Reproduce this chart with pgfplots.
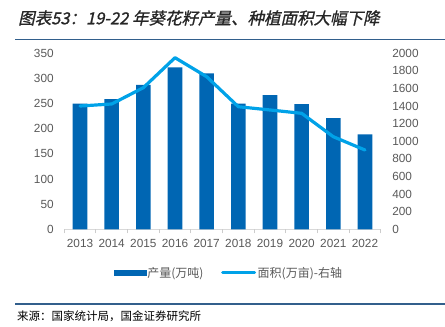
\documentclass[border=0pt]{standalone}
\usepackage{pgfplots}
\pgfplotsset{compat=1.18}
\usepackage{fontspec}
\setmainfont{Liberation Sans}
\newfontfamily\cjk{Noto Sans CJK SC}
\newfontfamily\cjktitle{Noto Sans CJK SC}[FakeSlant=0.22,FakeBold=1]
\definecolor{barblue}{RGB}{0,102,179}
\definecolor{lineblue}{RGB}{0,162,232}
\definecolor{tickgray}{RGB}{89,89,89}
\definecolor{rulecol}{RGB}{50,95,140}
\begin{document}
\begin{tikzpicture}
\path[use as bounding box] (0pt,0pt) rectangle (445pt,327pt);
\node[anchor=west, inner sep=0pt, font=\cjktitle\fontsize{16.5}{18}\selectfont, text=black!85] at (18pt,309pt) {图表53：19-22 年葵花籽产量、种植面积大幅下降};
\draw[rulecol, line width=1.5pt] (15pt,287.5pt) -- (445pt,287.5pt);
\draw[rulecol, line width=1.2pt] (15pt,23pt) -- (445pt,23pt);
\node[anchor=west, inner sep=0pt, font=\cjk\fontsize{11.5}{12}\selectfont] at (17pt,11pt) {来源：国家统计局，国金证券研究所};

\pgfplotsset{common/.style={at={(64.2pt,97.7pt)}, anchor=south west, scale only axis,
  width=316.6pt, height=176pt, xmin=-0.5, xmax=9.5, ymin=0,
  tick label style={font=\fontsize{11.8}{12}\selectfont, text=tickgray},
  /pgf/number format/assume math mode=true, /pgf/number format/1000 sep={}}}

\begin{axis}[common, ymax=350, ytick={0,50,...,350},
  axis x line*=bottom, axis y line*=left,
  y axis line style={draw=none}, x axis line style={draw=black!15, line width=0.8pt},
  xtick={0,...,9}, xticklabels={2013,2014,2015,2016,2017,2018,2019,2020,2021,2022},
  xtick style={draw=none}, ytick style={draw=none},
  extra x ticks={-0.5,0.5,1.5,2.5,3.5,4.5,5.5,6.5,7.5,8.5,9.5},
  extra x tick style={xtick style={draw=black!20, line width=0.8pt}, major tick length=4pt, tick align=outside, xticklabel={}},
  xticklabel style={yshift=-6.5pt},
  yticklabel style={xshift=-7pt}]
\addplot[ybar, bar width=14.6pt, fill=barblue, draw=none] coordinates {
(0,250) (1,259) (2,287) (3,322) (4,310) (5,250) (6,267) (7,249) (8,221) (9,189)};
\end{axis}

\begin{axis}[common, ymax=2000, ytick={0,200,...,2000},
  axis x line=none, xtick=\empty, axis y line*=right,
  y axis line style={draw=none}, ytick style={draw=none},
  yticklabel style={xshift=8pt},
  legend style={at={(0.519,-0.247)}, anchor=center, draw=none, fill=none,
    legend columns=2, font=\cjk\fontsize{12}{13}\selectfont, text=tickgray,
    nodes={inner sep=1.5pt},
    /tikz/every even column/.append style={column sep=16pt}},
  legend cell align=left]
\addlegendimage{legend image code/.code={\fill[barblue] (0pt,-2.6pt) rectangle (32pt,2.6pt);}}
\addlegendentry{产量(万吨)}
\addplot[lineblue, line width=3.2pt, line join=round, line cap=round,
  legend image code/.code={\draw[lineblue,line width=3.2pt] (0pt,0pt) -- (32pt,0pt);}] coordinates {
(0,1401) (1,1424) (2,1609) (3,1950) (4,1734) (5,1393) (6,1356) (7,1318) (8,1052) (9,901)};
\addlegendentry{面积(万亩)-右轴}
\end{axis}
\end{tikzpicture}
\end{document}
